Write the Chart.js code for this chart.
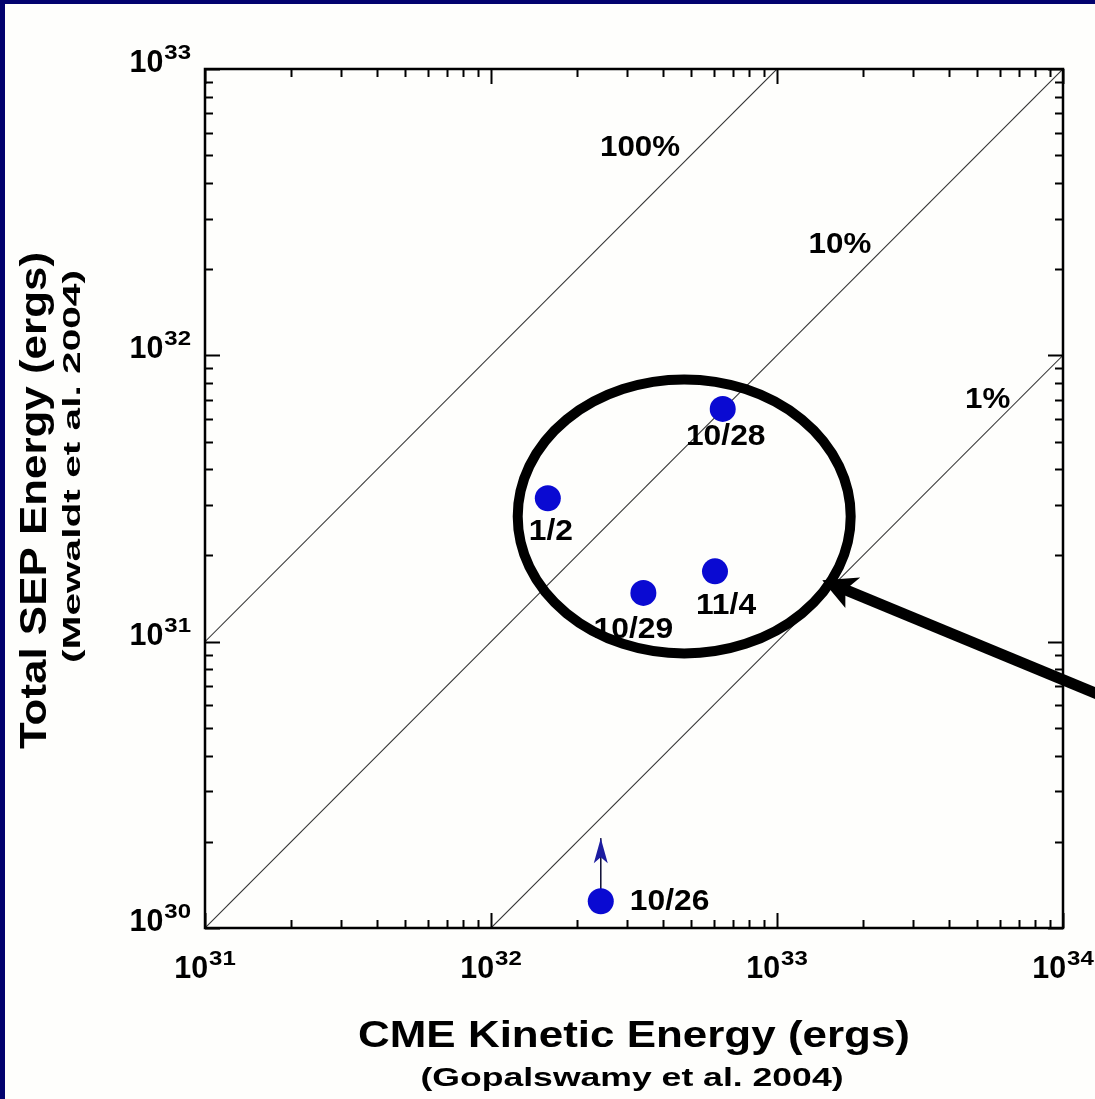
<!DOCTYPE html>
<html>
<head>
<meta charset="utf-8">
<script src="https://cdn.jsdelivr.net/npm/chart.js@4.4.0/dist/chart.umd.min.js"></script>
<style>
  html, body { margin: 0; padding: 0; background: #fefefc; overflow: hidden; }
  #wrap { width: 1095px; height: 1099px; position: relative; }
</style>
</head>
<body>
<div id="wrap"><canvas id="chart" width="1095" height="1099"></canvas></div>
<script>
// ---- data -------------------------------------------------------------
const eventDates       = ['10/28', '1/2', '10/29', '11/4', '10/26'];
const cmeKineticEnergy = [6.46e32, 1.58e32, 3.41e32, 6.07e32, 2.42e32];   // ergs
const sepTotalEnergy   = [6.5e31, 3.17e31, 1.48e31, 1.76e31, 1.24e30];    // ergs
const sepLowerLimitTo  = [null, null, null, null, 2.06e30];               // 10/26 is a lower limit

const efficiencyFractions = [1, 0.1, 0.01];
const efficiencyLabels    = ['100%', '10%', '1%'];

const xTickExponents = [31, 32, 33, 34];
const yTickExponents = [30, 31, 32, 33];

const xTitle    = 'CME Kinetic Energy (ergs)';
const xSubtitle = '(Gopalswamy et al. 2004)';
const yTitle    = 'Total SEP Energy (ergs)';
const ySubtitle = '(Mewaldt et al. 2004)';

// ---- placement / styling --------------------------------------------
const FONT = "'Liberation Sans', Arial, Helvetica, sans-serif";
const X_MIN = Math.pow(10, xTickExponents[0]);
const X_MAX = Math.pow(10, xTickExponents[xTickExponents.length - 1]);
const Y_MIN = Math.pow(10, yTickExponents[0]);
const Y_MAX = Math.pow(10, yTickExponents[yTickExponents.length - 1]);

// label offsets (px) from each event marker: [dx, baseline dy, align]
const pointLabelPlacement = [[3, 36, 'center'], [3, 42, 'center'], [-10, 45, 'center'], [11, 43, 'center'], [29, 9, 'left']];
// efficiency line captions, anchored in data space (x, y of text centre)
const efficiencyLabelAnchors = [[3.32e32, 5.41e32], [1.66e33, 2.48e32], [5.45e33, 7.13e31]];
// highlight ellipse bounds in data space, and the pointer arrow (tip, tail)
const highlight = { xMin: 1.24e32, xMax: 1.81e33, yMin: 9.1e30, yMax: 8.24e31 };
const pointer = { tip: [1.44e33, 1.64e31], tail: [1.35e34, 6.5e30] };

// ---- datasets ---------------------------------------------------------
const eventPoints = cmeKineticEnergy.map((x, i) => ({ x, y: sepTotalEnergy[i] }));

const datasets = [
  {
    label: 'SEP vs CME energy',
    data: eventPoints,
    showLine: false,
    pointStyle: 'circle',
    pointRadius: 13,
    pointHoverRadius: 13,
    backgroundColor: '#0a0ad2',
    borderColor: '#0a0ad2',
    borderWidth: 0,
    order: 0
  }
];

sepLowerLimitTo.forEach((to, i) => {
  if (to === null) return;
  datasets.push({
    label: eventDates[i] + ' lower limit',
    data: [{ x: cmeKineticEnergy[i], y: sepTotalEnergy[i] }, { x: cmeKineticEnergy[i], y: to }],
    showLine: true,
    pointRadius: 0,
    borderColor: '#14143a',
    borderWidth: 1.6,
    order: 1
  });
});

efficiencyFractions.forEach((f, i) => {
  datasets.push({
    label: efficiencyLabels[i],
    data: [{ x: X_MIN, y: X_MIN * f }, { x: X_MAX, y: X_MAX * f }],
    showLine: true,
    pointRadius: 0,
    borderColor: '#333333',
    borderWidth: 1.1,
    order: 2
  });
});

// ---- text helper: bold text, horizontally stretched ---------------------
function stretchedText(ctx, text, x, y, size, opt) {
  ctx.save();
  ctx.font = `bold ${size}px ${FONT}`;
  ctx.textBaseline = 'alphabetic';
  ctx.textAlign = 'left';
  const w = ctx.measureText(text).width;
  const sx = opt.width ? opt.width / w : (opt.sx || 1);
  const total = w * sx;
  ctx.translate(x, y);
  if (opt.rotate) ctx.rotate(opt.rotate);
  const x0 = opt.align === 'center' ? -total / 2 : opt.align === 'right' ? -total : 0;
  ctx.translate(x0, 0);
  ctx.scale(sx, 1);
  ctx.fillStyle = opt.color || '#000';
  ctx.fillText(text, 0, 0);
  ctx.restore();
  return total;
}

function measureStretched(ctx, text, size, sx) {
  ctx.save();
  ctx.font = `bold ${size}px ${FONT}`;
  const w = ctx.measureText(text).width * sx;
  ctx.restore();
  return w;
}

// power-of-ten label "10" with superscript exponent
const BASE_SIZE = 32, SUP_SIZE = 20, SUP_SX = 1.2, SUP_RISE = 13;
function powerLabel(ctx, exp, x, baseline, align) {
  const wb = measureStretched(ctx, '10', BASE_SIZE, 0.95);
  const ws = measureStretched(ctx, String(exp), SUP_SIZE, SUP_SX);
  const total = wb + 1 + ws;
  const start = align === 'center' ? x - total / 2 : x - total;
  stretchedText(ctx, '10', start, baseline, BASE_SIZE, { align: 'left', sx: 0.95 });
  stretchedText(ctx, String(exp), start + wb + 1, baseline - SUP_RISE, SUP_SIZE, { align: 'left', sx: SUP_SX });
}

// ---- plugin: page, frame, ticks, labels, annotations --------------------
const decorations = {
  id: 'decorations',
  beforeDraw(chart) {
    const { ctx, width, height } = chart;
    ctx.save();
    ctx.fillStyle = '#02026e';
    ctx.fillRect(0, 0, width, height);
    ctx.fillStyle = '#fefefc';
    ctx.fillRect(5, 4, width - 5, height - 4);
    ctx.restore();
  },
  afterDatasetsDraw(chart) {
    const { ctx, chartArea: a } = chart;
    const xs = chart.scales.x, ys = chart.scales.y;

    // lower-limit arrowheads
    sepLowerLimitTo.forEach((to, i) => {
      if (to === null) return;
      const px = xs.getPixelForValue(cmeKineticEnergy[i]);
      const py = ys.getPixelForValue(to);
      ctx.save();
      ctx.fillStyle = '#1c1ca0';
      ctx.beginPath();
      ctx.moveTo(px, py);
      ctx.lineTo(px + 7, py + 25);
      ctx.lineTo(px, py + 19);
      ctx.lineTo(px - 7, py + 25);
      ctx.closePath();
      ctx.fill();
      ctx.restore();
    });

    // frame
    ctx.save();
    ctx.strokeStyle = '#000';
    ctx.lineWidth = 2.5;
    ctx.strokeRect(a.left, a.top, a.right - a.left, a.bottom - a.top);

    // inward ticks on all four sides
    ctx.lineWidth = 2;
    const MAJOR = 15, MINOR = 8;
    const tickVals = (exps) => {
      const out = [];
      for (let k = 0; k < exps.length - 1; k++) {
        for (let m = 1; m <= 9; m++) out.push([m * Math.pow(10, exps[k]), m === 1]);
      }
      out.push([Math.pow(10, exps[exps.length - 1]), true]);
      return out;
    };
    ctx.beginPath();
    tickVals(xTickExponents).forEach(([v, major]) => {
      const px = Math.round(xs.getPixelForValue(v)) + 0.5;
      const len = major ? MAJOR : MINOR;
      ctx.moveTo(px, a.bottom); ctx.lineTo(px, a.bottom - len);
      ctx.moveTo(px, a.top); ctx.lineTo(px, a.top + len);
    });
    tickVals(yTickExponents).forEach(([v, major]) => {
      const py = Math.round(ys.getPixelForValue(v)) + 0.5;
      const len = major ? MAJOR : MINOR;
      ctx.moveTo(a.left, py); ctx.lineTo(a.left + len, py);
      ctx.moveTo(a.right, py); ctx.lineTo(a.right - len, py);
    });
    ctx.stroke();
    ctx.restore();

    // tick labels
    xTickExponents.forEach(e => {
      powerLabel(ctx, e, xs.getPixelForValue(Math.pow(10, e)), a.bottom + 50, 'center');
    });
    yTickExponents.forEach(e => {
      powerLabel(ctx, e, a.left - 14, ys.getPixelForValue(Math.pow(10, e)) + 3, 'right');
    });

    // axis titles
    const xc = (a.left + a.right) / 2;
    stretchedText(ctx, xTitle, xc, a.bottom + 119, 36, { align: 'center', width: 552 });
    stretchedText(ctx, xSubtitle, xc - 2, a.bottom + 158, 26, { align: 'center', width: 423 });
    const yc = (a.top + a.bottom) / 2;
    stretchedText(ctx, yTitle, 46, yc + 2, 36, { align: 'center', width: 497, rotate: -Math.PI / 2 });
    stretchedText(ctx, ySubtitle, 80, yc - 32, 24, { align: 'center', width: 393, rotate: -Math.PI / 2 });

    // event labels
    eventDates.forEach((d, i) => {
      const [dx, dy, align] = pointLabelPlacement[i];
      const px = xs.getPixelForValue(cmeKineticEnergy[i]);
      const py = ys.getPixelForValue(sepTotalEnergy[i]);
      stretchedText(ctx, d, px + dx, py + dy, 30, { align, sx: 1.06 });
    });

    // efficiency captions
    efficiencyLabels.forEach((t, i) => {
      const [vx, vy] = efficiencyLabelAnchors[i];
      stretchedText(ctx, t, xs.getPixelForValue(vx), ys.getPixelForValue(vy) + 10.5, 29, { align: 'center', sx: 1.08 });
    });
  },
  afterDraw(chart) {
    const { ctx } = chart;
    const xs = chart.scales.x, ys = chart.scales.y;

    // highlight ellipse
    const l = xs.getPixelForValue(highlight.xMin), r = xs.getPixelForValue(highlight.xMax);
    const t = ys.getPixelForValue(highlight.yMax), b = ys.getPixelForValue(highlight.yMin);
    ctx.save();
    ctx.strokeStyle = '#000';
    ctx.lineWidth = 10;
    ctx.beginPath();
    ctx.ellipse((l + r) / 2, (t + b) / 2, (r - l) / 2, (b - t) / 2, 0, 0, Math.PI * 2);
    ctx.stroke();

    // pointer arrow
    const tx = xs.getPixelForValue(pointer.tip[0]), ty = ys.getPixelForValue(pointer.tip[1]);
    const ex = xs.getPixelForValue(pointer.tail[0]), ey = ys.getPixelForValue(pointer.tail[1]);
    const len = Math.hypot(ex - tx, ey - ty);
    const ux = (ex - tx) / len, uy = (ey - ty) / len;
    const nx = -uy, ny = ux;
    ctx.lineWidth = 11;
    ctx.lineCap = 'butt';
    ctx.beginPath();
    ctx.moveTo(tx + ux * 24, ty + uy * 24);
    ctx.lineTo(ex, ey);
    ctx.stroke();
    ctx.fillStyle = '#000';
    ctx.beginPath();
    ctx.moveTo(tx, ty);
    ctx.lineTo(tx + ux * 34 - nx * 17, ty + uy * 34 - ny * 17);
    ctx.lineTo(tx + ux * 25, ty + uy * 25);
    ctx.lineTo(tx + ux * 32 + nx * 17, ty + uy * 32 + ny * 17);
    ctx.closePath();
    ctx.fill();
    ctx.restore();
  }
};

// ---- chart ------------------------------------------------------------
new Chart(document.getElementById('chart'), {
  type: 'scatter',
  data: { datasets },
  options: {
    responsive: false,
    animation: false,
    devicePixelRatio: 1,
    layout: { padding: { top: 69, right: 32, left: 0, bottom: 0 } },
    plugins: { legend: { display: false }, tooltip: { enabled: false } },
    events: [],
    scales: {
      x: {
        type: 'logarithmic',
        position: 'bottom',
        min: X_MIN, max: X_MAX,
        ticks: { display: false },
        grid: { display: false },
        border: { display: false },
        afterFit(s) { s.height = 171; }
      },
      y: {
        type: 'logarithmic',
        position: 'left',
        min: Y_MIN, max: Y_MAX,
        ticks: { display: false },
        grid: { display: false },
        border: { display: false },
        afterFit(s) { s.width = 205; }
      }
    }
  },
  plugins: [decorations]
});
</script>
</body>
</html>
